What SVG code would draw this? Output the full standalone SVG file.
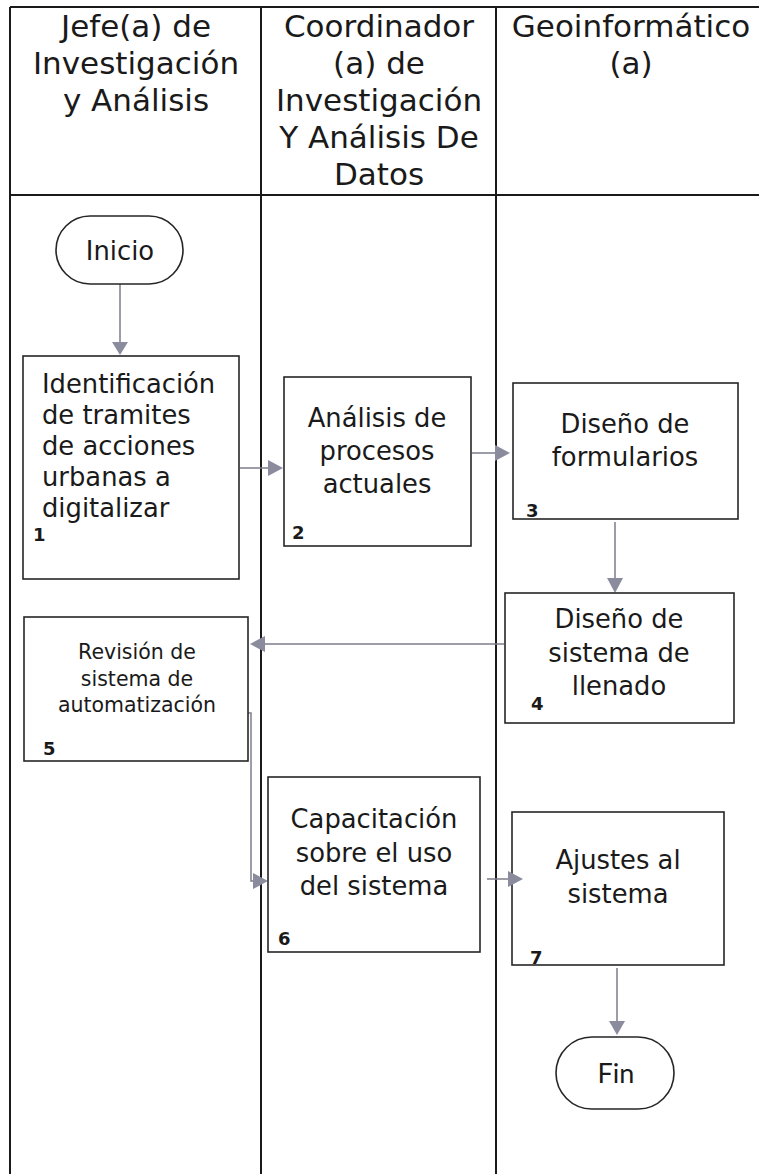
<svg xmlns="http://www.w3.org/2000/svg" width="759" height="1174" viewBox="0 0 759 1174">
<defs>
<style>
.grid{stroke:#1a1a1a;stroke-width:2;fill:none}
.box{fill:#fff;stroke:#262626;stroke-width:1.6}
.hd{font-family:"DejaVu Sans",Verdana,sans-serif;font-size:31px;fill:#1a1a1a;text-anchor:middle}
.t{font-family:"DejaVu Sans",Verdana,sans-serif;font-size:25.8px;fill:#1a1a1a}
.c{text-anchor:middle}
.s{font-family:"DejaVu Sans",Verdana,sans-serif;font-size:20.5px;fill:#1a1a1a;text-anchor:middle}
.n{font-family:"DejaVu Sans",Verdana,sans-serif;font-size:18px;font-weight:bold;fill:#1a1a1a}
.fin{font-family:Lato,"Liberation Sans",sans-serif;font-size:27px;fill:#1a1a1a;text-anchor:middle}
.ln{stroke:#7d7d8a;stroke-width:1.5;fill:none}
.ah{fill:#8b8b9e}
</style>
</defs>
<rect width="759" height="1174" fill="#fff"/>
<g id="table">
<line class="grid" x1="10" y1="7" x2="759" y2="7"/>
<line class="grid" x1="10" y1="195" x2="759" y2="195"/>
<line class="grid" x1="10" y1="7" x2="10" y2="1174"/>
<line class="grid" x1="261" y1="7" x2="261" y2="1174"/>
<line class="grid" x1="496" y1="7" x2="496" y2="1174"/>
</g>
<g id="headers">
<text class="hd" x="136" y="37">Jefe(a) de</text>
<text class="hd" x="136" y="74">Investigación</text>
<text class="hd" x="136" y="111">y Análisis</text>
<text class="hd" x="379" y="37">Coordinador</text>
<text class="hd" x="379" y="74">(a) de</text>
<text class="hd" x="379" y="111">Investigación</text>
<text class="hd" x="379" y="148">Y Análisis De</text>
<text class="hd" x="379" y="185">Datos</text>
<text class="hd" x="631" y="37">Geoinformático</text>
<text class="hd" x="631" y="74">(a)</text>
</g>
<g id="connectors">
<line class="ln" x1="120" y1="284" x2="120" y2="342"/>
<polygon class="ah" points="112,342 128,342 120,355"/>
<line class="ln" x1="240" y1="468" x2="268" y2="468"/>
<polygon class="ah" points="268,460 268,476 283,468"/>
<line class="ln" x1="472" y1="453" x2="495" y2="453"/>
<polygon class="ah" points="495,445 495,461 510,453"/>
<line class="ln" x1="615" y1="522" x2="615" y2="578"/>
<polygon class="ah" points="607,578 623,578 615,593"/>
<line class="ln" x1="504" y1="644" x2="265" y2="644"/>
<polygon class="ah" points="265,636 265,652 250,644"/>
<polyline class="ln" points="248,713 251,713 251,881 253,881"/>
<polygon class="ah" points="253,873 253,889 268,881"/>
<line class="ln" x1="487" y1="879" x2="508" y2="879"/>
<line class="ln" x1="617" y1="968" x2="617" y2="1021"/>
<polygon class="ah" points="609,1021 625,1021 617,1035"/>
</g>
<g id="inicio">
<rect class="box" x="56" y="216" width="127" height="68" rx="34" ry="34"/>
<text class="t c" x="120" y="260">Inicio</text>
</g>
<g id="n1">
<rect class="box" x="23" y="356" width="216" height="223"/>
<text class="t" x="42" y="393">Identificación</text>
<text class="t" x="42" y="424">de tramites</text>
<text class="t" x="42" y="455">de acciones</text>
<text class="t" x="42" y="486">urbanas a</text>
<text class="t" x="42" y="517">digitalizar</text>
<text class="n" x="33" y="541">1</text>
</g>
<g id="n2">
<rect class="box" x="284" y="377" width="187" height="169"/>
<text class="t c" x="377" y="427">Análisis de</text>
<text class="t c" x="377" y="460">procesos</text>
<text class="t c" x="377" y="493">actuales</text>
<text class="n" x="292" y="539">2</text>
</g>
<g id="n3">
<rect class="box" x="513" y="383" width="225" height="136"/>
<text class="t c" x="625" y="433">Diseño de</text>
<text class="t c" x="625" y="466">formularios</text>
<text class="n" x="526" y="517">3</text>
</g>
<g id="n4">
<rect class="box" x="505" y="593" width="229" height="130"/>
<text class="t c" x="619" y="628">Diseño de</text>
<text class="t c" x="619" y="662">sistema de</text>
<text class="t c" x="619" y="695">llenado</text>
<text class="n" x="531" y="710">4</text>
</g>
<g id="n5">
<rect class="box" x="24" y="617" width="224" height="144"/>
<text class="s" x="137" y="659">Revisión de</text>
<text class="s" x="137" y="686">sistema de</text>
<text class="s" x="137" y="712">automatización</text>
<text class="n" x="43" y="755">5</text>
</g>
<g id="n6">
<rect class="box" x="268" y="777" width="212" height="175"/>
<text class="t c" x="374" y="828">Capacitación</text>
<text class="t c" x="374" y="862">sobre el uso</text>
<text class="t c" x="374" y="895">del sistema</text>
<text class="n" x="278" y="945">6</text>
</g>
<g id="n7">
<rect class="box" x="512" y="812" width="212" height="153"/>
<text class="t c" x="618" y="869">Ajustes al</text>
<text class="t c" x="618" y="903">sistema</text>
<text class="n" x="530" y="964">7</text>
</g>
<polygon class="ah" points="508,871 508,887 523,879"/>
<g id="fin">
<rect class="box" x="556" y="1037" width="118" height="72" rx="36" ry="36"/>
<text class="fin" x="616" y="1083">Fin</text>
</g>
</svg>
